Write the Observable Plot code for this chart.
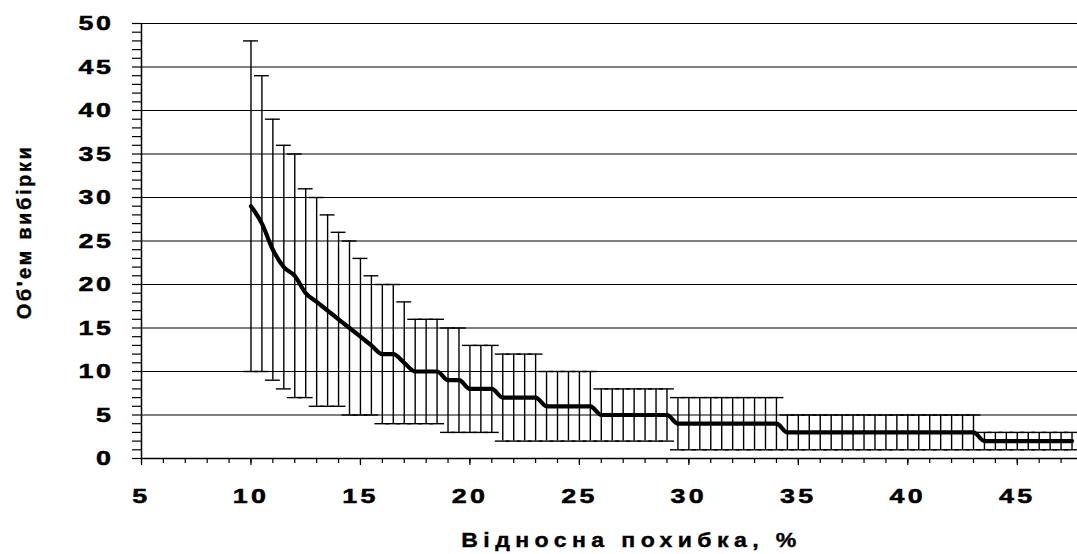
<!DOCTYPE html>
<html>
<head>
<meta charset="utf-8">
<script src="https://cdn.jsdelivr.net/npm/d3@7"></script>
<script src="https://cdn.jsdelivr.net/npm/@observablehq/plot@0.6"></script>
<style>
  html, body { margin: 0; padding: 0; background: #fff; }
</style>
</head>
<body>
<div id="chart"></div>
<script>
// Relative error, % (x positions of the points)
const errorPct = [10, 10.5, 11, 11.5, 12, 12.5, 13, 13.5, 14, 14.5, 15, 15.5, 16, 16.5, 17, 17.5, 18, 18.5, 19, 19.5,
  20, 20.5, 21, 21.5, 22, 22.5, 23, 23.5, 24, 24.5, 25, 25.5, 26, 26.5, 27, 27.5, 28, 28.5, 29, 29.5,
  30, 30.5, 31, 31.5, 32, 32.5, 33, 33.5, 34, 34.5, 35, 35.5, 36, 36.5, 37, 37.5, 38, 38.5, 39, 39.5,
  40, 40.5, 41, 41.5, 42, 42.5, 43, 43.5, 44, 44.5, 45, 45.5, 46, 46.5, 47, 47.5];
// Sample size (central line)
const sampleSize = [29, 27, 24, 22, 21, 19, 18, 17, 16, 15, 14, 13, 12, 12, 11, 10, 10, 10, 9, 9,
  8, 8, 8, 7, 7, 7, 7, 6, 6, 6, 6, 6, 5, 5, 5, 5, 5, 5, 5, 4,
  4, 4, 4, 4, 4, 4, 4, 4, 4, 3, 3, 3, 3, 3, 3, 3, 3, 3, 3, 3,
  3, 3, 3, 3, 3, 3, 3, 2, 2, 2, 2, 2, 2, 2, 2, 2];
// Upper end of the error bars
const upperBound = [48, 44, 39, 36, 35, 31, 30, 28, 26, 25, 23, 21, 20, 20, 18, 16, 16, 16, 15, 15,
  13, 13, 13, 12, 12, 12, 12, 10, 10, 10, 10, 10, 8, 8, 8, 8, 8, 8, 8, 7,
  7, 7, 7, 7, 7, 7, 7, 7, 7, 5, 5, 5, 5, 5, 5, 5, 5, 5, 5, 5,
  5, 5, 5, 5, 5, 5, 5, 3, 3, 3, 3, 3, 3, 3, 3, 3];
// Lower end of the error bars
const lowerBound = [10, 10, 9, 8, 7, 7, 6, 6, 6, 5, 5, 5, 4, 4, 4, 4, 4, 4, 3, 3,
  3, 3, 3, 2, 2, 2, 2, 2, 2, 2, 2, 2, 2, 2, 2, 2, 2, 2, 2, 1,
  1, 1, 1, 1, 1, 1, 1, 1, 1, 1, 1, 1, 1, 1, 1, 1, 1, 1, 1, 1,
  1, 1, 1, 1, 1, 1, 1, 1, 1, 1, 1, 1, 1, 1, 1, 1];

const xMinorTicks = [5, 6, 7, 8, 9, 10, 11, 12, 13, 14, 15, 16, 17, 18, 19, 20, 21, 22, 23, 24, 25, 26,
  27, 28, 29, 30, 31, 32, 33, 34, 35, 36, 37, 38, 39, 40, 41, 42, 43, 44, 45, 46, 47];
const xLabelTicks = [5, 10, 15, 20, 25, 30, 35, 40, 45];
const yMinorTicks = [0, 1, 2, 3, 4, 5, 6, 7, 8, 9, 10, 11, 12, 13, 14, 15, 16, 17, 18, 19, 20, 21, 22, 23, 24, 25,
  26, 27, 28, 29, 30, 31, 32, 33, 34, 35, 36, 37, 38, 39, 40, 41, 42, 43, 44, 45, 46, 47, 48, 49, 50];
const yLabelTicks = [0, 5, 10, 15, 20, 25, 30, 35, 40, 45, 50];
const yGridTicks = [5, 10, 15, 20, 25, 30, 35, 40, 45, 50];

const xTitle = "Відносна похибка, %";
const yTitle = "Об'ем вибірки";

const rows = errorPct.map((x, i) => ({x, n: sampleSize[i], hi: upperBound[i], lo: lowerBound[i]}));
const capHalf = 0.34; // half cap width in x units

const chart = Plot.plot({
  width: 1077,
  height: 554,
  marginLeft: 141,
  marginRight: 0,
  marginTop: 23,
  marginBottom: 96,
  x: {domain: [5, 47.75]},
  y: {domain: [0, 50]},
  style: {fontFamily: "'Liberation Sans', Arial, sans-serif", fontWeight: "bold", background: "#fff", color: "#000"},
  marks: [
    Plot.ruleY(yGridTicks, {stroke: "#000", strokeWidth: 1}),
    Plot.ruleX(rows, {x: "x", y1: "lo", y2: "hi", stroke: "#000", strokeWidth: 1.4}),
    Plot.ruleY(rows, {y: "hi", x1: d => d.x - capHalf, x2: d => d.x + capHalf, stroke: "#000", strokeWidth: 1.4}),
    Plot.ruleY(rows, {y: "lo", x1: d => d.x - capHalf, x2: d => d.x + capHalf, stroke: "#000", strokeWidth: 1.4}),
    Plot.line(rows, {x: "x", y: "n", stroke: "#000", strokeWidth: 4.2, curve: "monotone-x"}),
    Plot.axisY({ticks: yMinorTicks, tickSize: 9, tickPadding: 19, fontSize: 21, label: null,
      tickFormat: d => (yLabelTicks.includes(d) ? String(d) : ""), stroke: "#000", strokeWidth: 1.2}),
    Plot.axisX({ticks: xMinorTicks, tickSize: 5, tickFormat: () => "", label: null, stroke: "#000", strokeWidth: 1.2}),
    Plot.axisX({ticks: xLabelTicks, tickSize: 7, tickPadding: 23, fontSize: 21, label: null,
      tickFormat: d => String(d), stroke: "#000", strokeWidth: 1.2}),
    Plot.ruleX([5], {stroke: "#000", strokeWidth: 1.5}),
    Plot.ruleY([0], {stroke: "#000", strokeWidth: 1.5}),
    Plot.text([xTitle], {frameAnchor: "bottom", dx: 22, dy: 82, fontSize: 21, fontWeight: "bold", lineAnchor: "middle", fill: "#000"}),
    Plot.text([yTitle], {frameAnchor: "left", textAnchor: "middle", rotate: -90, dx: -117, dy: -9, fontSize: 20, fontWeight: "bold", lineAnchor: "middle", fill: "#000"})
  ]
});

function stretch(el, sx, sy) {
  const t = el.getAttribute("transform") || "";
  const x = el.getAttribute("x");
  if (x && !isNaN(+x) && +x !== 0) {
    el.setAttribute("x", 0);
    el.setAttribute("transform", `${t} translate(${x},0) scale(${sx},${sy})`);
  } else {
    el.setAttribute("transform", `${t} scale(${sx},${sy})`);
  }
}

d3.select(chart).selectAll("text").each(function () {
  const s = this.textContent.trim();
  const anchor = this.closest("g") ? this.closest("g").getAttribute("text-anchor") : null;
  if (/^\d+$/.test(s)) {
    this.style.letterSpacing = anchor === "end" ? "2px" : "2.6px";
    this.style.stroke = "#000";
    this.style.strokeWidth = "0.5px";
    stretch(this, 1.28, 1);
  } else if (s === xTitle) {
    this.style.letterSpacing = "4.9px";
    this.style.stroke = "#000";
    this.style.strokeWidth = "0.4px";
    stretch(this, 1.1, 1);
  } else if (s === yTitle) {
    this.style.letterSpacing = "2.6px";
    this.style.stroke = "#000";
    this.style.strokeWidth = "0.4px";
  }
});

document.getElementById("chart").appendChild(chart);
</script>
</body>
</html>
